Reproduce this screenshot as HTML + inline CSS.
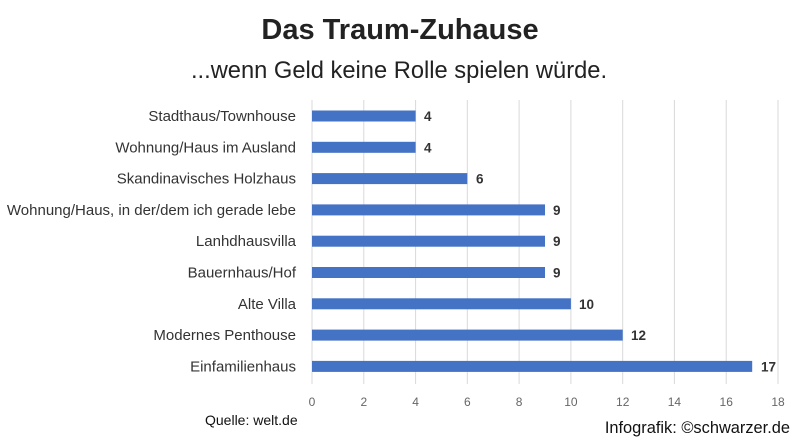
<!DOCTYPE html>
<html><head><meta charset="utf-8"><style>
body{margin:0;background:#fff;}
svg{display:block;font-family:"Liberation Sans",sans-serif;}
</style></head><body>
<svg width="800" height="443" viewBox="0 0 800 443">
<text x="400" y="39" text-anchor="middle" font-size="29" font-weight="bold" fill="#222">Das Traum-Zuhause</text>
<text x="399" y="78" text-anchor="middle" font-size="23.7" fill="#222">...wenn Geld keine Rolle spielen würde.</text>
<g stroke="#d9d9d9" stroke-width="1">
<line x1="312" y1="100" x2="312" y2="384"/>
<line x1="363.8" y1="100" x2="363.8" y2="384"/>
<line x1="415.6" y1="100" x2="415.6" y2="384"/>
<line x1="467.3" y1="100" x2="467.3" y2="384"/>
<line x1="519.1" y1="100" x2="519.1" y2="384"/>
<line x1="570.9" y1="100" x2="570.9" y2="384"/>
<line x1="622.7" y1="100" x2="622.7" y2="384"/>
<line x1="674.4" y1="100" x2="674.4" y2="384"/>
<line x1="726.2" y1="100" x2="726.2" y2="384"/>
<line x1="778" y1="100" x2="778" y2="384"/>
</g>
<g font-size="12" fill="#666" text-anchor="middle">
<text x="312" y="406">0</text><text x="363.8" y="406">2</text><text x="415.6" y="406">4</text><text x="467.3" y="406">6</text><text x="519.1" y="406">8</text><text x="570.9" y="406">10</text><text x="622.7" y="406">12</text><text x="674.4" y="406">14</text><text x="726.2" y="406">16</text><text x="778" y="406">18</text>
</g>
<g fill="#4472c4">
<rect x="312" y="110.5" width="103.6" height="11"/>
<rect x="312" y="141.8" width="103.6" height="11"/>
<rect x="312" y="173.1" width="155.3" height="11"/>
<rect x="312" y="204.4" width="233" height="11"/>
<rect x="312" y="235.7" width="233" height="11"/>
<rect x="312" y="267" width="233" height="11"/>
<rect x="312" y="298.3" width="258.9" height="11"/>
<rect x="312" y="329.6" width="310.7" height="11"/>
<rect x="312" y="360.9" width="440.2" height="11"/>
</g>
<g font-size="13.5" font-weight="bold" fill="#333">
<text x="424" y="121">4</text><text x="424" y="152.3">4</text><text x="476" y="183.6">6</text><text x="553" y="214.9">9</text><text x="553" y="246.2">9</text><text x="553" y="277.5">9</text><text x="579" y="308.8">10</text><text x="631" y="340.1">12</text><text x="761" y="371.4">17</text>
</g>
<g font-size="15" fill="#333" text-anchor="end">
<text x="296" y="121">Stadthaus/Townhouse</text>
<text x="296" y="152.3">Wohnung/Haus im Ausland</text>
<text x="296" y="183.6">Skandinavisches Holzhaus</text>
<text x="296" y="214.9">Wohnung/Haus, in der/dem ich gerade lebe</text>
<text x="296" y="246.2">Lanhdhausvilla</text>
<text x="296" y="277.5">Bauernhaus/Hof</text>
<text x="296" y="308.8">Alte Villa</text>
<text x="296" y="340.1">Modernes Penthouse</text>
<text x="296" y="371.4">Einfamilienhaus</text>
</g>
<text x="205" y="425" font-size="14" fill="#111">Quelle: welt.de</text>
<text x="790" y="433" font-size="16.4" fill="#111" text-anchor="end">Infografik: ©schwarzer.de</text>
</svg>
</body></html>
